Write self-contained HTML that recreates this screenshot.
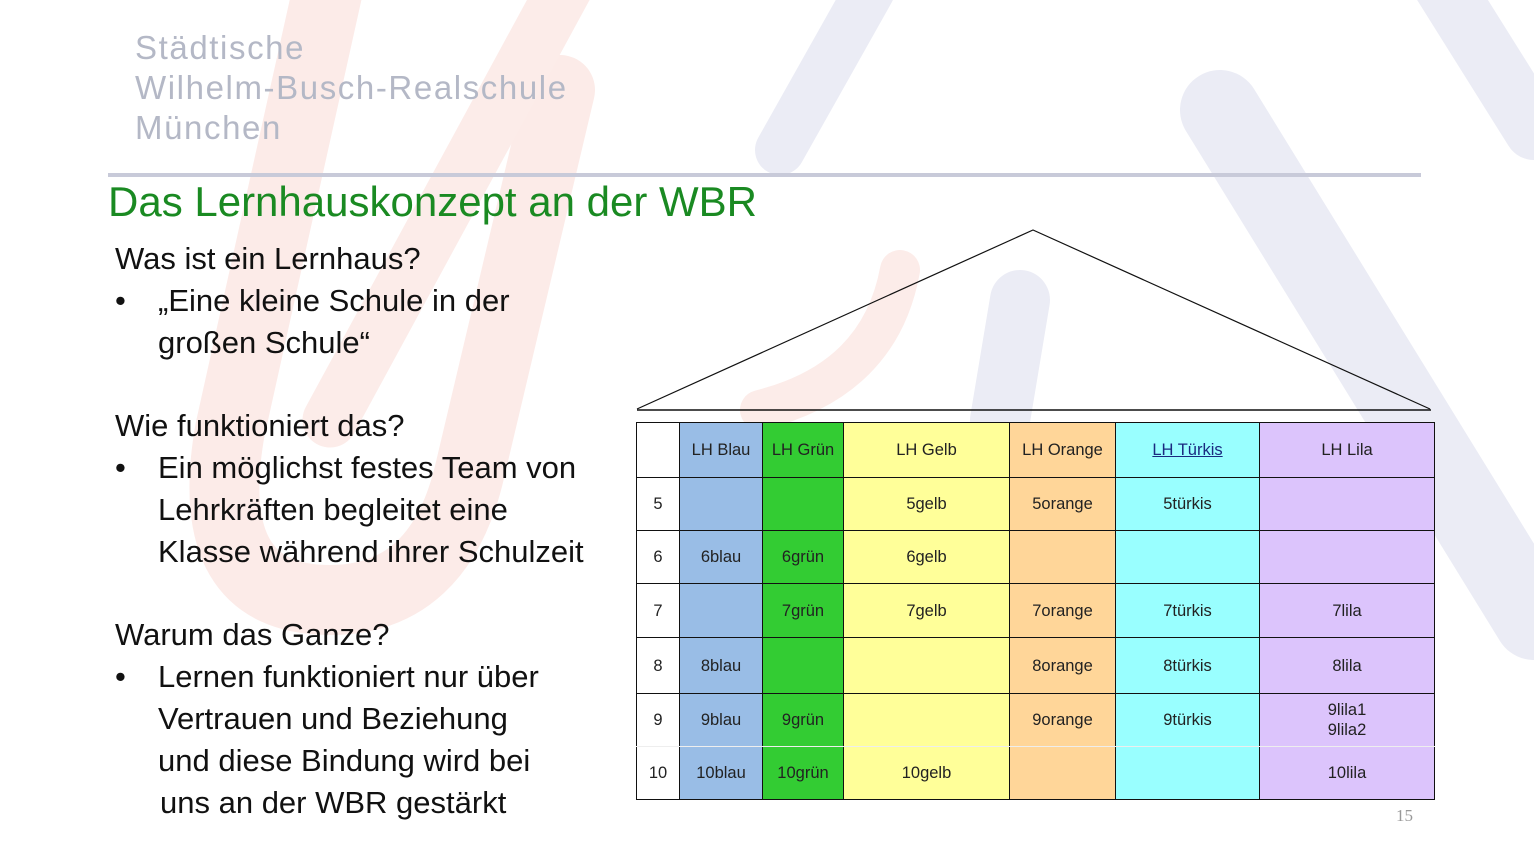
<!DOCTYPE html>
<html><head><meta charset="utf-8"><style>
*{margin:0;padding:0}
body{width:1534px;height:855px;position:relative;overflow:hidden;background:#fff;font-family:"Liberation Sans",sans-serif}
.g{position:absolute;left:135px;color:#b4b8c6;font-size:33px;letter-spacing:1.6px}
.t{position:absolute;white-space:nowrap}
.b{position:absolute;font-size:31px;color:#111;white-space:nowrap}
table{position:absolute;left:636px;top:422px;border-collapse:collapse;font-size:16.5px;color:#222}
td{border:1.5px solid #111;text-align:center;padding:0;line-height:20px}
</style></head><body>
<svg width="1534" height="855" style="position:absolute;left:0;top:0">
 <g fill="none" stroke-linecap="round">
  <path d="M330 -20 L230 430 Q200 600 330 600 Q440 600 470 470 L560 90" stroke="#fcebe8" stroke-width="70"/>
  <path d="M580 -40 L330 420" stroke="#fcece9" stroke-width="55"/>
  <path d="M900 270 Q880 380 760 410" stroke="#fcece9" stroke-width="40"/>
  <path d="M870 -10 L780 150" stroke="#ebecf5" stroke-width="50"/>
  <path d="M1020 300 L1000 420" stroke="#ebecf5" stroke-width="60"/>
  <path d="M1220 110 L1534 620" stroke="#ebecf5" stroke-width="80"/>
  <path d="M1440 -20 L1534 130" stroke="#ebecf5" stroke-width="60"/>
 </g>
 <line x1="108" y1="175" x2="1421" y2="175" stroke="#c8cad9" stroke-width="4"/>
 <polyline points="637,409 1033,230 1430,409" fill="none" stroke="#111" stroke-width="1.2"/>
 <line x1="637" y1="410" x2="1431" y2="410" stroke="#111" stroke-width="1.5"/>
</svg>
<div class="g" style="top:29px">Städtische</div>
<div class="g" style="top:69px">Wilhelm-Busch-Realschule</div>
<div class="g" style="top:109px">München</div>
<div class="t" style="left:108px;top:178px;font-size:42px;color:#1a8a22">Das Lernhauskonzept an der WBR</div>
<div class="b" style="left:115px;top:241px">Was ist ein Lernhaus?</div>
<div class="b" style="left:115px;top:283px">•</div>
<div class="b" style="left:158px;top:283px">„Eine kleine Schule in der</div>
<div class="b" style="left:158px;top:325px">großen Schule“</div>
<div class="b" style="left:115px;top:408px">Wie funktioniert das?</div>
<div class="b" style="left:115px;top:450px">•</div>
<div class="b" style="left:158px;top:450px">Ein möglichst festes Team von</div>
<div class="b" style="left:158px;top:492px">Lehrkräften begleitet eine</div>
<div class="b" style="left:158px;top:534px">Klasse während ihrer Schulzeit</div>
<div class="b" style="left:115px;top:617px">Warum das Ganze?</div>
<div class="b" style="left:115px;top:659px">•</div>
<div class="b" style="left:158px;top:659px">Lernen funktioniert nur über</div>
<div class="b" style="left:158px;top:701px">Vertrauen und Beziehung</div>
<div class="b" style="left:158px;top:743px">und diese Bindung wird bei</div>
<div class="b" style="left:160px;top:785px">uns an der WBR gestärkt</div>
<table>
<colgroup><col style="width:43px"><col style="width:83px"><col style="width:81px"><col style="width:166px"><col style="width:106px"><col style="width:144px"><col style="width:175px"></colgroup>
<tr style="height:55px"><td></td><td style="background:#99bde6">LH Blau</td><td style="background:#33cc33">LH Grün</td><td style="background:#ffff99">LH Gelb</td><td style="background:#ffd699">LH Orange</td><td style="background:#99ffff"><u style="color:#1a2a80">LH Türkis</u></td><td style="background:#dcc4fc">LH Lila</td></tr>
<tr style="height:53px"><td>5</td><td style="background:#99bde6"></td><td style="background:#33cc33"></td><td style="background:#ffff99">5gelb</td><td style="background:#ffd699">5orange</td><td style="background:#99ffff">5türkis</td><td style="background:#dcc4fc"></td></tr>
<tr style="height:53px"><td>6</td><td style="background:#99bde6">6blau</td><td style="background:#33cc33">6grün</td><td style="background:#ffff99">6gelb</td><td style="background:#ffd699"></td><td style="background:#99ffff"></td><td style="background:#dcc4fc"></td></tr>
<tr style="height:54px"><td>7</td><td style="background:#99bde6"></td><td style="background:#33cc33">7grün</td><td style="background:#ffff99">7gelb</td><td style="background:#ffd699">7orange</td><td style="background:#99ffff">7türkis</td><td style="background:#dcc4fc">7lila</td></tr>
<tr style="height:56px"><td>8</td><td style="background:#99bde6">8blau</td><td style="background:#33cc33"></td><td style="background:#ffff99"></td><td style="background:#ffd699">8orange</td><td style="background:#99ffff">8türkis</td><td style="background:#dcc4fc">8lila</td></tr>
<tr style="height:53px"><td style="border-bottom-color:#eee">9</td><td style="background:#99bde6;border-bottom-color:#eee">9blau</td><td style="background:#33cc33;border-bottom-color:#eee">9grün</td><td style="background:#ffff99;border-bottom-color:#eee"></td><td style="background:#ffd699;border-bottom-color:#eee">9orange</td><td style="background:#99ffff;border-bottom-color:#eee">9türkis</td><td style="background:#dcc4fc;border-bottom-color:#eee">9lila1<br>9lila2</td></tr>
<tr style="height:53px"><td>10</td><td style="background:#99bde6">10blau</td><td style="background:#33cc33">10grün</td><td style="background:#ffff99">10gelb</td><td style="background:#ffd699"></td><td style="background:#99ffff"></td><td style="background:#dcc4fc">10lila</td></tr>
</table>
<div class="t" style="left:1396px;top:806px;font-family:'Liberation Serif',serif;font-size:17px;color:#999">15</div>
</body></html>
